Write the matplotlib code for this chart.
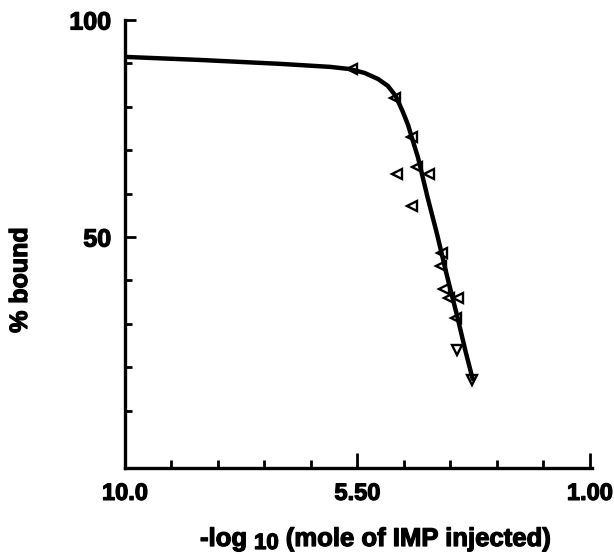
import matplotlib
matplotlib.use("Agg")
import matplotlib.pyplot as plt
import matplotlib.patheffects as pe
from matplotlib.ticker import FixedLocator

plt.rcParams['font.family'] = ['Liberation Sans', 'DejaVu Sans']

# fitted curve (-log10 mole IMP, % bound)
curve_x = [10.0, 8.55, 7.00, 6.03, 5.65, 5.36, 5.10, 4.91, 4.76, 4.62, 4.52, 4.45,
           4.33, 4.14, 3.96, 3.77, 3.57, 3.40, 3.27]
curve_y = [91.5, 90.8, 89.9, 89.2, 88.7, 87.8, 86.4, 84.8, 82.5, 78.8, 75.8, 73.0,
           68.4, 59.0, 50.7, 41.2, 31.8, 23.3, 17.3]

# measured points (left-pointing triangles)
pts_left_x = [5.61, 4.77, 4.45, 4.35, 4.74, 4.12, 4.45, 3.86, 3.88, 3.83, 3.73, 3.56, 3.59]
pts_left_y = [88.7, 82.0, 73.0, 66.1, 64.5, 64.5, 57.1, 46.3, 43.3, 38.0, 35.9, 35.9, 31.3]
# measured points (down-pointing triangles)
pts_down_x = [3.57, 3.28]
pts_down_y = [24.0, 17.1]

xtick_vals = [10.0, 5.50, 1.00]
xtick_labels = ["10.0", "5.50", "1.00"]
ytick_vals = [50, 100]
ytick_labels = ["50", "100"]
xlabel_parts = ["-log", "10", "(mole of IMP injected)"]
ylabel_text = "% bound"

heavy = [pe.withStroke(linewidth=0.9, foreground='black')]

W, H = 614, 554
fig = plt.figure(figsize=(W / 100, H / 100), dpi=100)
ax = fig.add_axes([125/W, 1-468/H, (592-125)/W, (468-20)/H])

ax.plot(pts_left_x, pts_left_y, linestyle='none', marker='<', markersize=7.5,
        markerfacecolor='white', markeredgecolor='black', markeredgewidth=1.7, zorder=2)
ax.plot(pts_down_x, pts_down_y, linestyle='none', marker='v', markersize=7.5,
        markerfacecolor='white', markeredgecolor='black', markeredgewidth=1.7, zorder=2)
ax.plot(curve_x, curve_y, color='black', linewidth=3.2, solid_capstyle='round',
        solid_joinstyle='round', zorder=3)

ax.set_xlim(10.0, 0.96)
ax.set_ylim(-3.2, 100)

for s in ['top', 'right']:
    ax.spines[s].set_visible(False)
for s in ['left', 'bottom']:
    ax.spines[s].set_linewidth(2.4)

ax.set_xticks(xtick_vals)
ax.set_xticklabels(xtick_labels, fontsize=17, fontweight='bold')
ax.xaxis.set_minor_locator(FixedLocator([10 - 0.9 * i for i in range(1, 10) if i != 5]))
ax.set_yticks(ytick_vals)
ax.set_yticklabels(ytick_labels, fontsize=18, fontweight='bold')
ax.yaxis.set_minor_locator(FixedLocator([10, 20, 30, 40, 60, 70, 80, 90]))
for lab in ax.get_xticklabels() + ax.get_yticklabels():
    lab.set_path_effects(heavy)

ax.tick_params(axis='x', which='major', direction='in', length=11, width=2, pad=10)
ax.tick_params(axis='x', which='minor', direction='in', length=6, width=2)
ax.tick_params(axis='y', which='major', direction='in', length=8, width=2, pad=10)
ax.tick_params(axis='y', which='minor', direction='in', length=5, width=2)

# y label
fig.text(8 / W, 1 - 280 / H, ylabel_text, rotation=90, ha='left', va='center',
         fontsize=18, fontweight='bold', path_effects=heavy)

# x label built from pieces so the "10" sits low at nearly full size
fig.canvas.draw()
renderer = fig.canvas.get_renderer()
x_px = 200.0
base_main = 1 - 546 / H
base_sub = 1 - 549 / H
sizes = [18.5, 16, 18.5]
bases = [base_main, base_sub, base_main]
gaps = [7, 7, 0]
for part, fs, yb, gap in zip(xlabel_parts, sizes, bases, gaps):
    t = fig.text(x_px / W, yb, part, ha='left', va='baseline', fontsize=fs,
                 fontweight='bold', path_effects=heavy)
    bb = t.get_window_extent(renderer=renderer)
    x_px += bb.width + gap

fig.savefig("out.png", dpi=100)
